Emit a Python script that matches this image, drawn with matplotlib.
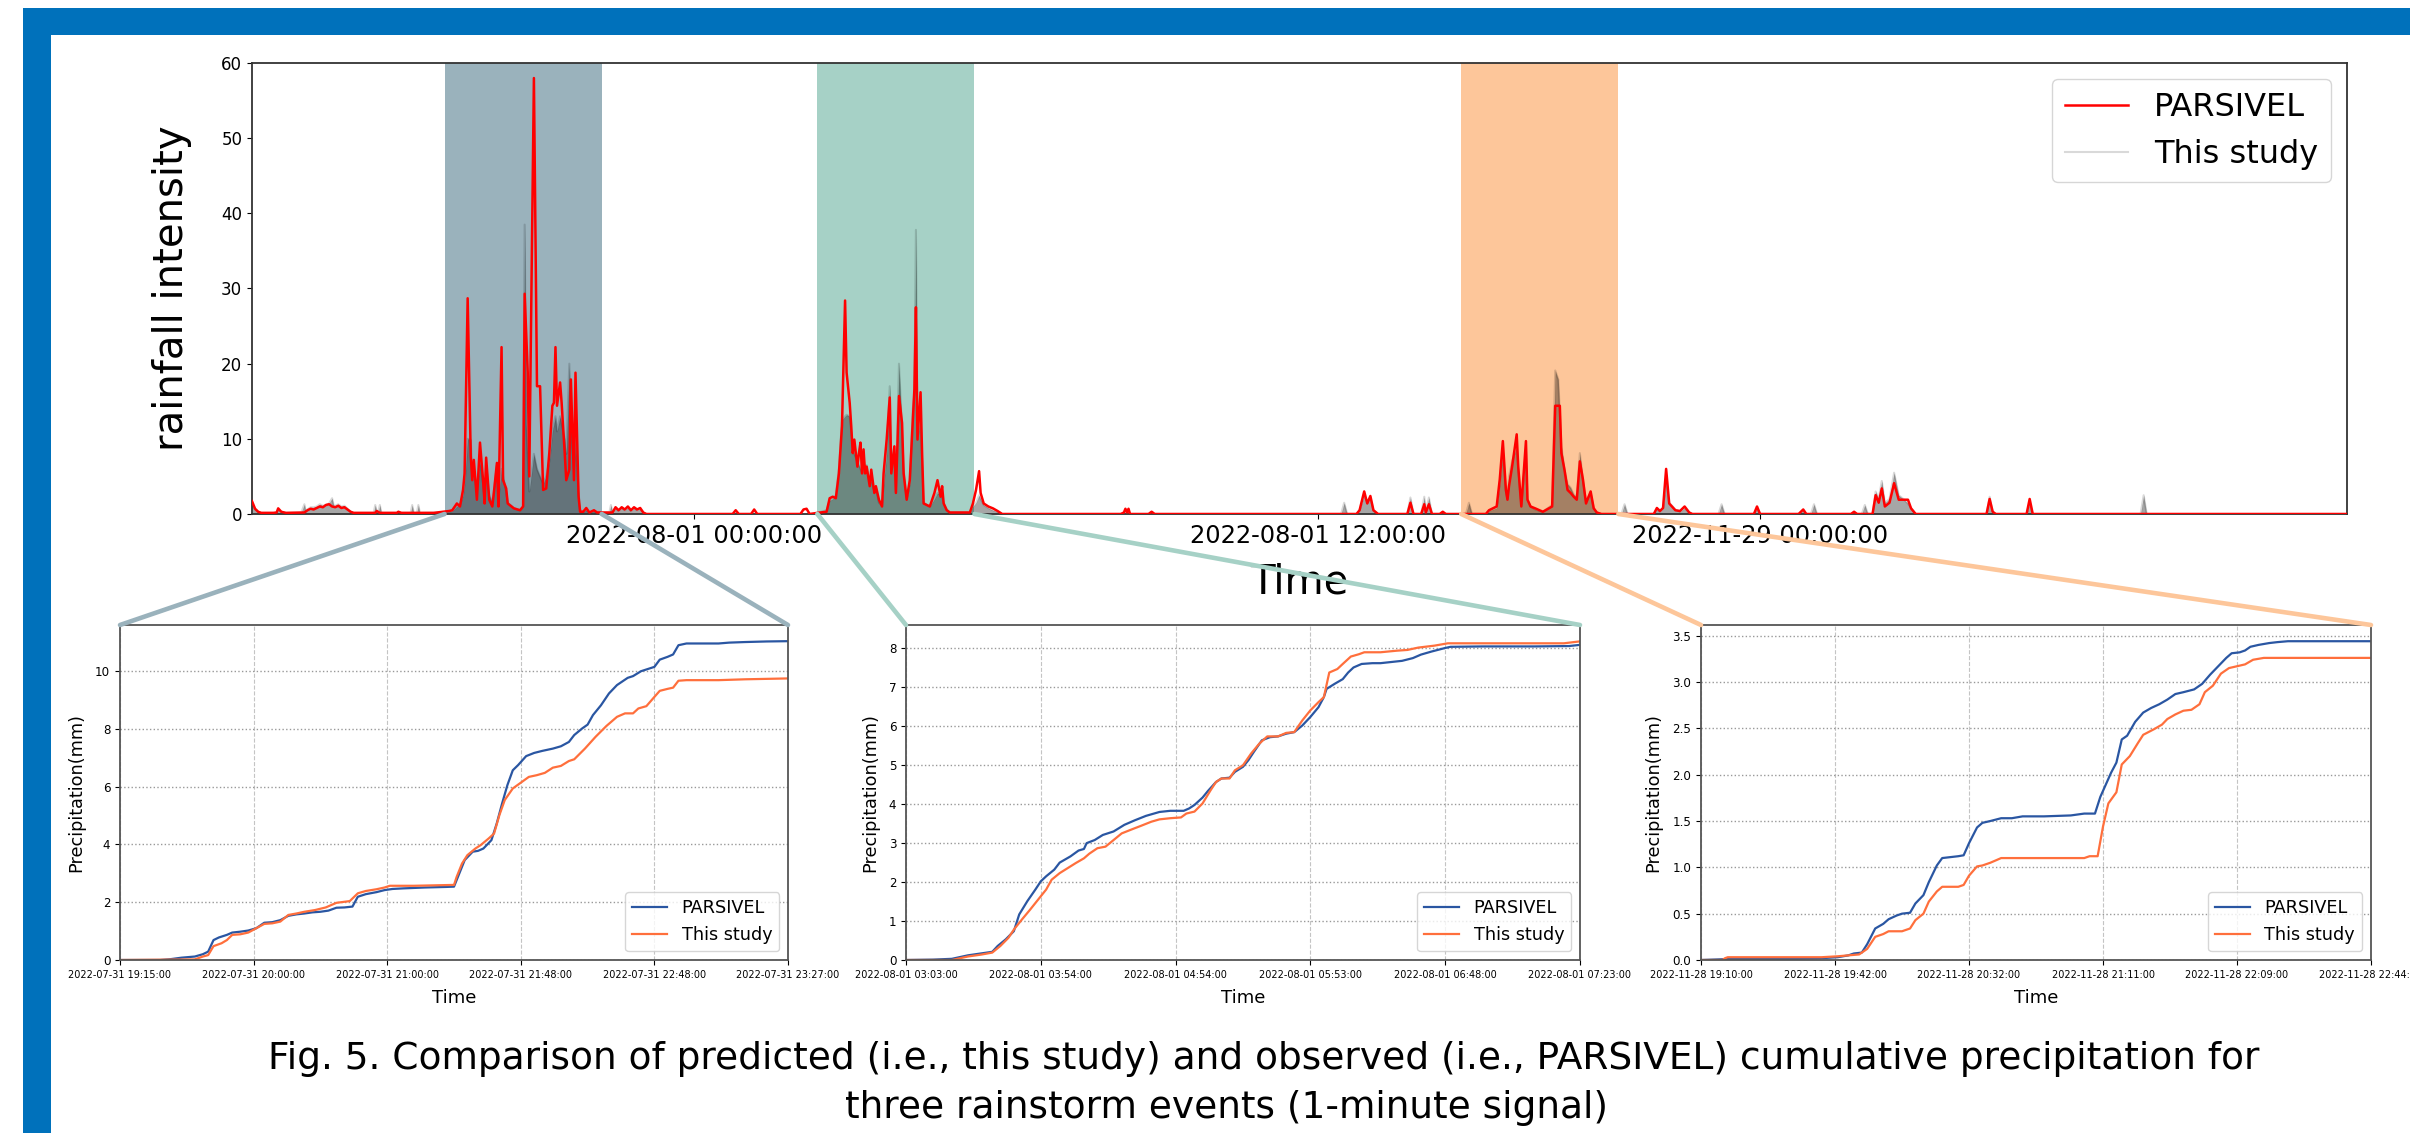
import matplotlib
matplotlib.use('Agg')
import matplotlib.pyplot as plt
from matplotlib.patches import Rectangle, ConnectionPatch
from matplotlib import rcParams
rcParams['font.family'] = 'DejaVu Sans'
rcParams['xtick.direction'] = 'out'
rcParams['ytick.direction'] = 'out'

# ---- top panel: 1-minute rainfall intensity (sample index, value) ----
parsivel_t = [0, 2, 4, 6, 14, 16, 17, 19, 22, 34, 36, 38, 40, 42, 44, 46, 48, 50, 52, 54, 56, 58, 60, 62, 64, 66,
              80, 81, 83, 94, 95, 97, 118, 124, 128, 130,
              133, 135, 137, 138, 140, 142, 143, 144, 146, 148, 150, 151, 152, 154, 156, 157, 159, 160, 162, 163,
              165, 166, 170, 174, 176, 177, 179, 180, 183, 185, 187, 189, 191, 193, 195, 196, 197, 198, 200, 201,
              203, 204, 206, 207, 209, 210, 212, 213,
              215, 217, 219, 222, 224, 234, 236, 238, 240, 242, 244, 246, 248, 250, 252, 254, 256,
              312, 314, 316, 324, 326, 328, 356, 358, 360, 362,
              367, 373, 375, 377, 379, 381, 383, 385, 386, 388, 389, 390, 391, 393, 394, 395, 396, 397, 398, 399,
              401, 402, 404, 405, 407, 409, 410, 412, 414, 415, 417, 418, 420, 422, 423, 425, 427, 429, 430, 431,
              432, 434, 435, 436, 440, 443, 445, 447, 448, 449, 451, 453, 466, 468, 470, 472, 473, 475, 478, 481,
              484, 487,
              564, 566, 567, 568, 569, 570, 582, 584, 586,
              717, 719, 722, 724, 726, 728, 731, 750, 752, 754, 759, 761, 762, 764, 766, 771, 773, 775,
              801, 803, 808, 810, 812, 814, 815, 816, 818, 821, 822, 824, 827, 828, 830, 833, 838, 844, 846, 849,
              850, 852, 854, 856, 858, 860, 862, 864, 866, 869, 871, 873, 876,
              910, 912, 914, 916, 918, 920, 924, 927, 930, 933, 935, 975, 977, 979, 1004, 1007, 1009, 1038, 1040,
              1042, 1052, 1054, 1056, 1058, 1060, 1063, 1066, 1069, 1072, 1075, 1077, 1080, 1126, 1128, 1130, 1132,
              1152, 1154, 1156, 1360]
parsivel_v = [1.7, 0.7, 0.3, 0.15, 0.15, 0.2, 0.75, 0.3, 0.15, 0.2, 0.5, 0.7, 0.6, 0.8, 1.0, 0.9, 1.2, 1.3, 1.0,
              0.9, 1.1, 0.8, 0.9, 0.6, 0.3, 0.15,
              0.15, 0.4, 0.15, 0.15, 0.3, 0.15, 0.15, 0.3, 0.4, 0.5,
              1.4, 1.0, 3.2, 5.4, 28.7, 7.7, 4.5, 7.2, 1.9, 9.5, 4.5, 1.4, 7.5, 1.9, 1.0, 2.8, 6.8, 1.0, 22.2, 4.5,
              3.4, 1.4, 0.75, 0.5, 1.0, 29.3, 18.8, 5.0, 58.0, 17.0, 17.0, 3.2, 3.4, 8.1, 14.4, 14.8, 22.2, 14.4,
              17.5, 14.8, 8.1, 4.5, 5.9, 17.9, 4.5, 18.8, 2.3, 0.3,
              0.3, 0.8, 0.2, 0.5, 0.2, 0.2, 0.9, 0.5, 0.9, 0.6, 1.0, 0.5, 0.9, 0.6, 0.8, 0.2, 0.0,
              0.0, 0.5, 0.0, 0.0, 0.6, 0.0, 0.0, 0.6, 0.7, 0.0,
              0.15, 0.3, 2.1, 2.3, 2.1, 5.4, 11.7, 28.4, 18.8, 14.8, 11.7, 8.1, 9.9, 6.3, 8.1, 9.5, 5.4, 8.6, 5.4,
              6.3, 3.7, 5.9, 2.8, 3.7, 1.9, 1.0, 5.4, 9.9, 15.5, 5.4, 9.0, 2.8, 15.7, 12.1, 5.4, 1.9, 4.5, 12.6,
              16.6, 27.5, 9.9, 16.2, 8.1, 1.4, 1.0, 2.8, 4.5, 2.3, 3.7, 1.4, 0.5, 0.2, 0.2, 1.4, 3.2, 5.7, 2.8,
              1.4, 1.0, 0.75, 0.4, 0.0,
              0.0, 0.2, 0.7, 0.2, 0.7, 0.0, 0.0, 0.3, 0.0,
              0.0, 0.5, 3.0, 1.4, 2.4, 0.5, 0.0, 0.0, 1.5, 0.0, 0.0, 1.3, 0.2, 1.3, 0.0, 0.0, 0.3, 0.0,
              0.0, 0.5, 1.0, 4.6, 9.7, 3.2, 1.9, 3.7, 6.3, 10.6, 6.3, 1.0, 9.7, 1.9, 1.0, 0.75, 0.3, 1.0, 14.4,
              14.4, 8.1, 5.9, 3.2, 2.8, 2.3, 1.9, 7.0, 4.6, 1.4, 3.0, 0.75, 0.2, 0.0,
              0.0, 0.8, 0.4, 0.8, 6.0, 1.4, 0.5, 0.4, 1.0, 0.2, 0.0, 0.0, 1.0, 0.0, 0.0, 0.6, 0.0, 0.0, 0.3,
              0.0, 0.0, 2.5, 1.5, 3.4, 1.0, 1.5, 4.1, 1.9, 1.9, 1.9, 0.75, 0.0, 0.0, 2.0, 0.3, 0.0,
              0.0, 2.0, 0.0, 0.0]

study_t = [0, 2, 4, 6, 14, 16, 17, 19, 22, 32, 34, 35, 36, 38, 40, 42, 44, 46, 48, 50, 52, 53, 54, 56, 58, 60, 62,
           64, 66, 79, 80, 81, 82, 83, 84, 103, 104, 105, 107, 108, 109, 124, 128, 130,
           133, 135, 137, 138, 140, 142, 143, 144, 146, 148, 150, 151, 152, 154, 156, 157, 159, 160, 162, 163,
           165, 166, 170, 174, 176, 177, 178, 180, 183, 185, 187, 189, 191, 193, 195, 196, 197, 198, 200, 201,
           203, 204, 206, 207, 209, 210, 212, 213,
           215, 217, 219, 222, 224, 232, 233, 234, 236, 238, 240, 242, 244, 246, 248, 250, 252, 254, 256,
           365, 367, 373, 375, 377, 379, 381, 383, 385, 386, 388, 389, 390, 391, 393, 394, 395, 396, 397, 398,
           399, 401, 402, 404, 405, 407, 409, 410, 412, 414, 415, 417, 418, 420, 422, 423, 425, 427, 429, 430,
           431, 432, 434, 435, 436, 440, 443, 445, 447, 448, 449, 451, 453, 466, 468, 470, 472, 473, 475, 478,
           481, 484, 487,
           707, 709, 711, 717, 719, 722, 724, 726, 728, 731, 750, 752, 754, 759, 761, 762, 764, 766, 788, 790,
           792, 801, 803, 808, 810, 812, 814, 815, 816, 818, 821, 822, 824, 827, 828, 830, 833, 838, 844, 846,
           848, 850, 852, 854, 856, 858, 860, 862, 864, 866, 869, 871, 873, 876,
           889, 891, 893, 910, 912, 914, 916, 918, 920, 924, 927, 930, 933, 935, 952, 954, 956, 975, 977, 979,
           1004, 1007, 1009, 1012, 1014, 1016, 1045, 1047, 1049, 1052, 1054, 1056, 1058, 1060, 1063, 1066,
           1069, 1072, 1075, 1077, 1080, 1126, 1128, 1130, 1132, 1152, 1154, 1156, 1226, 1228, 1230, 1360]
study_v = [1.2, 0.6, 0.3, 0.15, 0.15, 0.2, 0.5, 0.3, 0.15, 0.2, 1.3, 0.3, 0.6, 0.9, 0.9, 1.0, 1.3, 1.1, 1.2, 1.4,
           2.1, 1.2, 1.1, 1.3, 1.0, 1.1, 0.7, 0.3, 0.15, 0.15, 1.2, 0.3, 0.2, 1.2, 0.15, 0.15, 1.2, 0.15, 0.15,
           1.2, 0.15, 0.2, 0.3, 0.4,
           1.0, 1.2, 2.5, 4.0, 10.0, 9.9, 5.0, 6.0, 3.0, 7.0, 4.0, 2.0, 6.5, 2.5, 1.5, 3.0, 6.5, 2.0, 6.0, 5.0,
           3.0, 1.5, 0.8, 0.5, 1.0, 38.5, 12.0, 3.0, 8.0, 6.0, 5.0, 4.0, 5.0, 7.0, 11.0, 12.0, 13.0, 11.0, 13.0,
           12.0, 10.0, 8.0, 20.0, 12.0, 6.0, 10.0, 3.0, 0.5,
           0.3, 0.5, 0.2, 0.4, 0.2, 0.2, 1.2, 0.2, 0.8, 0.4, 0.8, 0.5, 0.9, 0.4, 0.8, 0.5, 0.7, 0.2, 0.0,
           0.0, 0.15, 0.5, 1.8, 2.0, 2.5, 6.0, 12.5, 13.0, 13.2, 13.0, 11.0, 9.0, 8.0, 7.0, 6.5, 6.0, 5.5, 7.5,
           6.0, 6.5, 4.0, 4.5, 3.0, 3.5, 1.5, 1.2, 4.0, 8.0, 17.0, 7.0, 8.5, 3.0, 20.0, 11.0, 6.0, 2.0, 4.0,
           14.0, 16.0, 37.8, 10.0, 13.0, 7.0, 1.5, 1.0, 2.0, 2.8, 2.5, 2.3, 1.5, 0.6, 0.2, 0.2, 1.0, 1.5, 2.5,
           2.0, 1.2, 0.8, 0.5, 0.3, 0.0,
           0.0, 1.5, 0.0, 0.0, 0.5, 2.5, 1.6, 2.2, 0.5, 0.0, 0.0, 2.2, 0.0, 0.0, 2.3, 0.3, 2.2, 0.0, 0.0, 1.5,
           0.0, 0.0, 0.4, 0.8, 4.0, 8.5, 3.0, 2.0, 5.0, 7.0, 9.0, 6.0, 1.2, 8.5, 2.0, 1.0, 0.6, 0.3, 1.2, 19.1,
           17.9, 9.0, 6.0, 4.0, 3.5, 2.6, 2.2, 8.1, 4.5, 1.8, 2.8, 0.8, 0.2, 0.0,
           0.0, 1.3, 0.0, 0.0, 0.6, 0.3, 0.7, 4.5, 1.5, 0.6, 0.3, 0.8, 0.2, 0.0, 0.0, 1.3, 0.0, 0.0, 0.8, 0.0,
           0.0, 0.5, 0.0, 0.0, 1.3, 0.0, 0.0, 1.2, 0.0, 0.0, 3.0, 2.0, 4.4, 1.5, 2.0, 5.5,
           2.5, 2.0, 1.4, 0.8, 0.0, 0.0, 2.3, 0.3, 0.0, 0.0, 1.5, 0.0, 0.0, 2.5, 0.0, 0.0]

top_ticks = [287, 692, 979]
top_ticklabels = ['2022-08-01 00:00:00', '2022-08-01 12:00:00', '2022-11-29 00:00:00']
event_spans = [(125, 227), (367, 469), (785, 887)]
event_colors = ['#9ab2bc', '#a6d1c6', '#fdc69a']

# ---- bottom panels: cumulative precipitation (mm) ----
ev1_labels = ['2022-07-31 19:15:00', '2022-07-31 20:00:00', '2022-07-31 21:00:00',
              '2022-07-31 21:48:00', '2022-07-31 22:48:00', '2022-07-31 23:27:00']
ev1_par_t = [0, 15, 19, 23, 28, 31, 33, 35, 37, 40, 42, 45, 48, 51, 54, 57, 60, 63, 66, 69, 72, 75, 78, 81, 84,
             87, 89, 92, 96, 99, 102, 106, 114, 122, 125, 127, 129, 132, 134, 136, 139, 141, 143, 145, 147, 149,
             152, 155, 158, 162, 165, 168, 170, 173, 175, 177, 180, 183, 186, 190, 192, 195, 198, 200, 202, 205,
             207, 209, 212, 218, 224, 228, 234, 242, 250]
ev1_par_v = [0, 0.0, 0.03, 0.08, 0.12, 0.2, 0.29, 0.69, 0.78, 0.87, 0.95, 0.98, 1.02, 1.10, 1.29, 1.31, 1.38, 1.53,
             1.58, 1.61, 1.65, 1.67, 1.71, 1.81, 1.82, 1.85, 2.19, 2.28, 2.35, 2.42, 2.46, 2.48, 2.51, 2.53, 2.54,
             3.0, 3.46, 3.75, 3.78, 3.86, 4.15, 4.73, 5.42, 6.06, 6.57, 6.75, 7.06, 7.17, 7.24, 7.32, 7.4, 7.55,
             7.79, 8.02, 8.15, 8.48, 8.82, 9.23, 9.52, 9.77, 9.83, 10.0, 10.09, 10.15, 10.4, 10.5, 10.58, 10.9,
             10.96, 10.96, 10.96, 10.99, 11.01, 11.03, 11.04]
ev1_stu_t = [0, 28, 31, 33, 35, 38, 40, 42, 45, 48, 51, 54, 57, 60, 63, 66, 69, 73, 77, 81, 86, 89, 92, 96, 99,
             101, 110, 125, 126, 128, 130, 133, 135, 138, 140, 142, 144, 147, 150, 153, 156, 159, 162, 165, 168,
             170, 174, 178, 182, 186, 189, 192, 194, 197, 200, 202, 205, 207, 209, 212, 224, 234, 250]
ev1_stu_v = [0, 0.02, 0.12, 0.17, 0.48, 0.58, 0.69, 0.87, 0.89, 0.95, 1.10, 1.25, 1.27, 1.33, 1.56, 1.61, 1.67,
             1.73, 1.82, 1.98, 2.04, 2.31, 2.39, 2.45, 2.51, 2.57, 2.57, 2.6, 2.88, 3.34, 3.63, 3.86, 3.98, 4.21,
             4.38, 5.02, 5.54, 5.94, 6.14, 6.34, 6.4, 6.48, 6.66, 6.72, 6.89, 6.95, 7.32, 7.73, 8.1, 8.42, 8.54,
             8.54, 8.71, 8.79, 9.11, 9.32, 9.39, 9.43, 9.67, 9.69, 9.69, 9.72, 9.75]

ev2_labels = ['2022-08-01 03:03:00', '2022-08-01 03:54:00', '2022-08-01 04:54:00',
              '2022-08-01 05:53:00', '2022-08-01 06:48:00', '2022-08-01 07:23:00']
ev2_par_t = [0, 10, 17, 23, 27, 32, 34, 37, 40, 42, 45, 48, 50, 52, 55, 57, 61, 64, 66, 67, 70, 73, 77, 81, 85,
             89, 94, 98, 103, 105, 107, 110, 112, 115, 117, 120, 122, 125, 127, 129, 132, 135, 138, 141, 144, 147,
             150, 153, 155, 156, 159, 162, 164, 166, 169, 173, 176, 180, 184, 188, 191, 195, 200, 202, 214, 233,
             246, 250]
ev2_par_v = [0, 0.01, 0.03, 0.12, 0.16, 0.21, 0.36, 0.53, 0.74, 1.17, 1.51, 1.81, 2.02, 2.15, 2.32, 2.5, 2.66,
             2.81, 2.85, 3.0, 3.08, 3.21, 3.3, 3.47, 3.59, 3.7, 3.8, 3.83, 3.83, 3.89, 3.98, 4.17, 4.34, 4.57,
             4.66, 4.68, 4.83, 4.96, 5.13, 5.34, 5.64, 5.72, 5.74, 5.81, 5.85, 6.02, 6.24, 6.49, 6.75, 6.96, 7.09,
             7.21, 7.38, 7.51, 7.6, 7.62, 7.62, 7.65, 7.68, 7.75, 7.84, 7.92, 8.01, 8.04, 8.05, 8.05, 8.06, 8.09]
ev2_stu_t = [0, 17, 23, 28, 32, 35, 38, 40, 43, 46, 49, 52, 54, 57, 60, 63, 66, 68, 71, 74, 77, 80, 84, 87, 91,
             94, 98, 102, 104, 107, 110, 113, 115, 117, 120, 122, 125, 128, 131, 134, 138, 141, 144, 147, 150,
             153, 155, 157, 160, 162, 165, 168, 170, 176, 182, 186, 190, 196, 201, 206, 244, 250]
ev2_stu_v = [0, 0.0, 0.09, 0.14, 0.19, 0.36, 0.57, 0.78, 1.04, 1.29, 1.55, 1.81, 2.06, 2.23, 2.36, 2.49, 2.61,
             2.73, 2.87, 2.91, 3.08, 3.25, 3.36, 3.44, 3.55, 3.61, 3.64, 3.66, 3.76, 3.81, 4.02, 4.36, 4.57, 4.66,
             4.66, 4.87, 5.0, 5.3, 5.55, 5.74, 5.74, 5.83, 5.85, 6.15, 6.41, 6.62, 6.75, 7.38, 7.47, 7.6, 7.79,
             7.85, 7.9, 7.9, 7.94, 7.96, 8.02, 8.07, 8.13, 8.13, 8.13, 8.18]

ev3_labels = ['2022-11-28 19:10:00', '2022-11-28 19:42:00', '2022-11-28 20:32:00',
              '2022-11-28 21:11:00', '2022-11-28 22:09:00', '2022-11-28 22:44:00']
ev3_par_t = [0, 10, 23, 33, 45, 51, 55, 57, 60, 62, 65, 68, 70, 73, 75, 78, 80, 83, 85, 88, 90, 93, 96, 98, 100,
             103, 105, 108, 112, 116, 120, 128, 138, 143, 147, 149, 151, 153, 155, 157, 159, 162, 165, 168, 171,
             174, 177, 180, 184, 187, 190, 193, 196, 198, 201, 203, 205, 208, 212, 215, 219, 250]
ev3_par_v = [0, 0.01, 0.01, 0.01, 0.02, 0.03, 0.05, 0.07, 0.08, 0.17, 0.34, 0.39, 0.44, 0.48, 0.5, 0.51, 0.61,
             0.7, 0.84, 1.02, 1.1, 1.11, 1.12, 1.13, 1.26, 1.43, 1.48, 1.5, 1.53, 1.53, 1.55, 1.55, 1.56, 1.58,
             1.58, 1.76, 1.89, 2.02, 2.13, 2.38, 2.42, 2.57, 2.67, 2.72, 2.76, 2.81, 2.87, 2.89, 2.92, 2.98, 3.08,
             3.17, 3.26, 3.31, 3.32, 3.34, 3.38, 3.4, 3.42, 3.43, 3.44, 3.44]
ev3_stu_t = [0, 8, 9, 10, 45, 51, 55, 59, 62, 65, 68, 70, 75, 78, 80, 83, 85, 88, 90, 96, 98, 100, 103, 105, 108,
             112, 118, 138, 143, 145, 148, 150, 152, 155, 157, 160, 163, 165, 169, 172, 174, 177, 180, 183, 186,
             188, 191, 194, 197, 200, 203, 206, 210, 214, 250]
ev3_stu_v = [0, 0.0, 0.02, 0.03, 0.03, 0.04, 0.05, 0.06, 0.12, 0.25, 0.28, 0.31, 0.31, 0.34, 0.43, 0.5, 0.63,
             0.74, 0.79, 0.79, 0.81, 0.91, 1.01, 1.02, 1.05, 1.1, 1.1, 1.1, 1.1, 1.12, 1.12, 1.44, 1.69, 1.81,
             2.11, 2.2, 2.34, 2.43, 2.49, 2.54, 2.6, 2.65, 2.69, 2.7, 2.76, 2.89, 2.96, 3.09, 3.15, 3.17, 3.19,
             3.24, 3.26, 3.26, 3.26]

sub_ymax = [11.6, 8.6, 3.615]
sub_ticks = [0, 50, 100, 150, 200, 250]

BLUE = '#2a56a2'
ORANGE = '#ff6f3c'
FRAME = '#0071bb'

W, H = 2410, 1133


def box(x0, y0, x1, y1):
    # pixel box (top-left origin) -> figure fraction rect
    return [x0 / W, 1 - y1 / H, (x1 - x0) / W, (y1 - y0) / H]


fig = plt.figure(figsize=(W / 100, H / 100), dpi=100)

# blue page frame
fig.add_artist(Rectangle((23 / W, 1 - 35 / H), 1, 27 / H, transform=fig.transFigure,
                         facecolor=FRAME, edgecolor='none', zorder=0))
fig.add_artist(Rectangle((23 / W, 0), 28 / W, 1 - 8 / H, transform=fig.transFigure,
                         facecolor=FRAME, edgecolor='none', zorder=0))

# ---- top panel ----
ax = fig.add_axes(box(252, 63, 2347, 514))
for (a, b), c in zip(event_spans, event_colors):
    ax.axvspan(a, b, color=c, lw=0, zorder=0)
ax.fill_between(study_t, study_v, color='k', alpha=0.35, lw=0, zorder=1)
ax.plot(study_t, study_v, color='k', alpha=0.15, lw=1.5, label='This study', zorder=2)
ax.plot(parsivel_t, parsivel_v, color='red', lw=1.8, label='PARSIVEL', zorder=3)
ax.set_xlim(0, 1360)
ax.set_ylim(0, 60)
ax.set_xticks(top_ticks)
ax.set_xticklabels(top_ticklabels)
ax.tick_params(axis='x', labelsize=17.4)
ax.tick_params(axis='y', labelsize=12)
ax.set_xlabel('Time', fontsize=29, labelpad=11)
ax.set_ylabel('rainfall intensity', fontsize=29, labelpad=21)
for s in ax.spines.values():
    s.set_color('#333333')
    s.set_linewidth(1.3)
handles, labels = ax.get_legend_handles_labels()
ax.legend(handles[::-1], labels[::-1], loc='upper right', fontsize=23)

# ---- bottom panels ----
sub_boxes = [box(120, 625, 788, 960), box(906, 625, 1580, 960), box(1701, 625, 2371, 960)]
series = [(ev1_par_t, ev1_par_v, ev1_stu_t, ev1_stu_v, ev1_labels),
          (ev2_par_t, ev2_par_v, ev2_stu_t, ev2_stu_v, ev2_labels),
          (ev3_par_t, ev3_par_v, ev3_stu_t, ev3_stu_v, ev3_labels)]

for i, (pt, pv, st, sv, lab) in enumerate(series):
    sub = fig.add_axes(sub_boxes[i])
    sub.plot(pt, pv, color=BLUE, lw=1.6, label='PARSIVEL')
    sub.plot(st, sv, color=ORANGE, lw=1.6, label='This study')
    sub.set_xlim(0, 250)
    sub.set_ylim(0, sub_ymax[i])
    sub.set_xticks(sub_ticks)
    sub.set_xticklabels(lab)
    sub.tick_params(axis='x', labelsize=7)
    sub.tick_params(axis='y', labelsize=8.6)
    sub.grid(axis='x', ls='--', color='#c4c4c4', lw=0.8)
    sub.grid(axis='y', ls=':', color='#999999', lw=1.0)
    sub.set_xlabel('Time', fontsize=13, labelpad=7)
    sub.set_ylabel('Precipitation(mm)', fontsize=12.7, labelpad=7)
    for s in sub.spines.values():
        s.set_color('#555555')
        s.set_linewidth(1.3)
    sub.legend(loc='lower right', fontsize=12.7)

    # zoom connectors from the shaded span to the panel corners
    a, b = event_spans[i]
    for xa, xb in [(a, 0), (b, 1)]:
        con = ConnectionPatch(xyA=(xa, 0), coordsA=ax.transData, xyB=(xb, 1), coordsB=sub.transAxes,
                              color=event_colors[i], lw=3.3, zorder=5)
        fig.add_artist(con)

fig.text(0.5245, 1 - 1069 / H, 'Fig. 5. Comparison of predicted (i.e., this study) and observed (i.e., PARSIVEL) '
         'cumulative precipitation for', ha='center', va='baseline', fontsize=27)
fig.text(0.509, 1 - 1118 / H, 'three rainstorm events (1-minute signal)',
         ha='center', va='baseline', fontsize=27)

fig.savefig('out.png', dpi=100)
